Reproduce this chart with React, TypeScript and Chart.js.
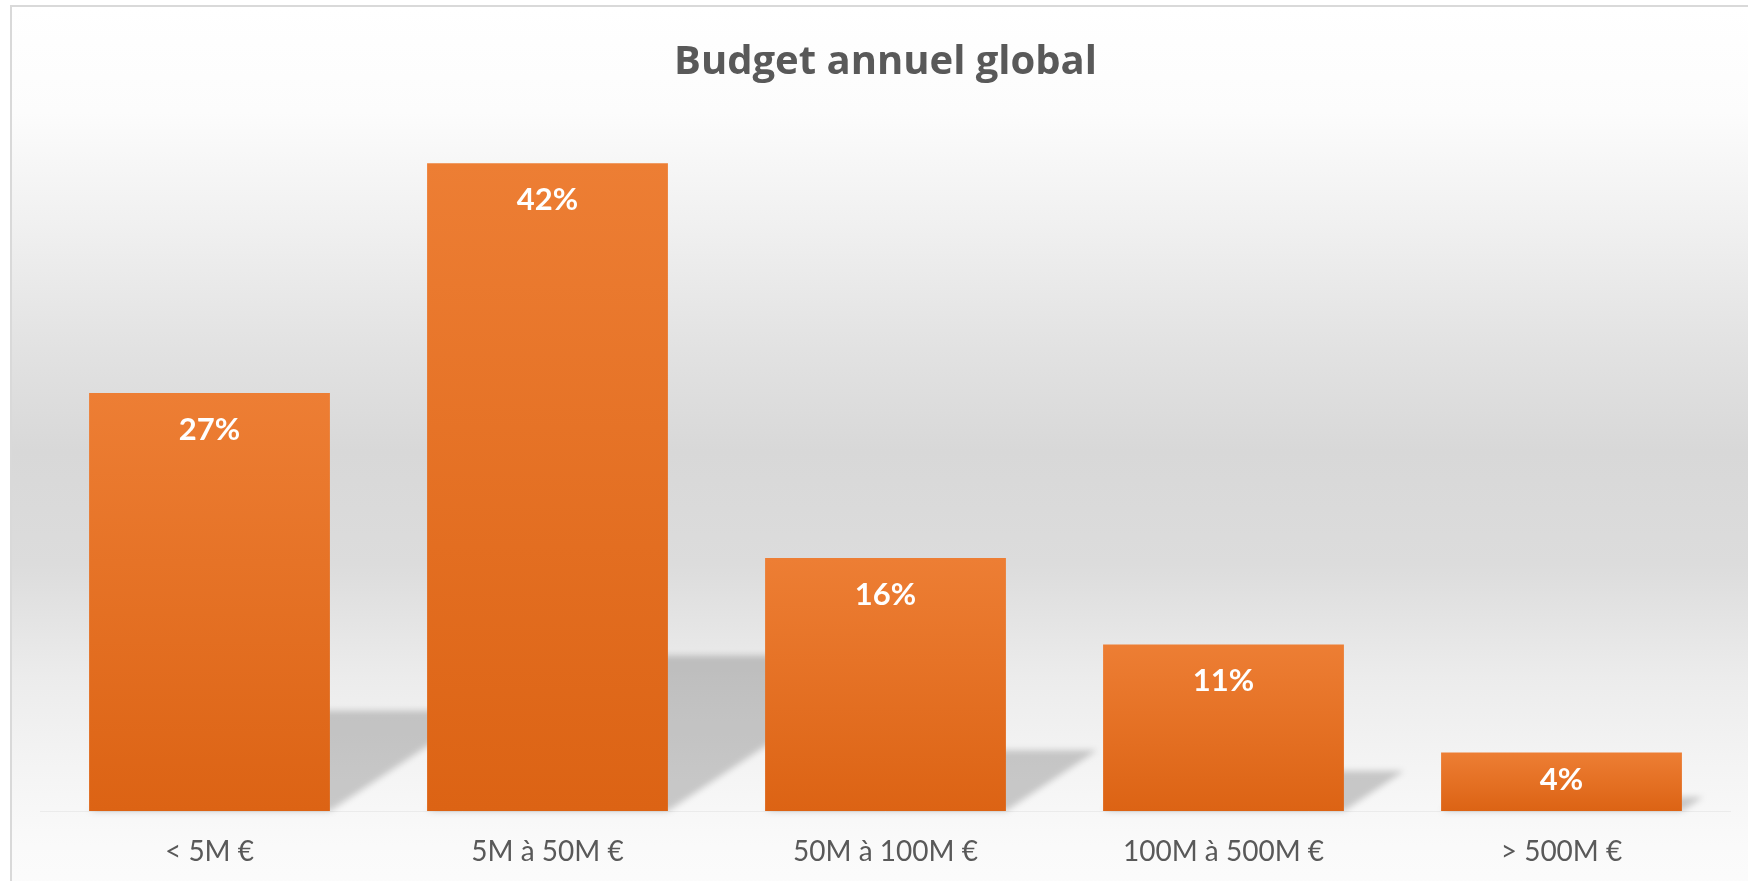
import React, { useEffect, useRef } from 'react';
import { Chart, registerables } from 'chart.js';

Chart.register(...registerables);

const chartTitle = 'Budget annuel global';
const categories = ['< 5M €', '5M à 50M €', '50M à 100M €', '100M à 500M €', '> 500M €'];
const values = [27.1, 42, 16.4, 10.8, 3.8];
const valueLabels = ['27%', '42%', '16%', '11%', '4%'];
const yMin = 0;
const yMax = 45;

const FONT = 'Lato';

const shadowPlugin = {
  id: 'barShadows',
  beforeDatasetsDraw(chart: any) {
    const ctx = chart.ctx;
    const meta = chart.getDatasetMeta(0);
    ctx.save();
    ctx.filter = 'blur(3px)';
    ctx.fillStyle = 'rgba(0,0,0,0.19)';
    meta.data.forEach((el: any) => {
      const { x, y, base, width } = el.getProps(['x', 'y', 'base', 'width'], true);
      const L = x - width / 2;
      const R = x + width / 2;
      const sh = (base - y) * 0.24;
      const dx = sh * 1.5;
      ctx.beginPath();
      ctx.moveTo(L, base);
      ctx.lineTo(R, base);
      ctx.lineTo(R + dx, base - sh);
      ctx.lineTo(L + dx, base - sh);
      ctx.closePath();
      ctx.fill();
    });
    ctx.restore();
  },
};

const labelPlugin = {
  id: 'barLabels',
  afterDatasetsDraw(chart: any) {
    const ctx = chart.ctx;
    const meta = chart.getDatasetMeta(0);
    ctx.save();
    ctx.fillStyle = '#ffffff';
    ctx.font = `bold 31px ${FONT}`;
    ctx.textAlign = 'center';
    ctx.textBaseline = 'alphabetic';
    meta.data.forEach((el: any, i: number) => {
      const { x, y, base } = el.getProps(['x', 'y', 'base'], true);
      const by = Math.min(y + 47, base - 21);
      ctx.fillText(valueLabels[i], x, by);
    });
    ctx.restore();
  },
};

const titlePlugin = {
  id: 'customTitle',
  afterDraw(chart: any) {
    const ctx = chart.ctx;
    const area = chart.chartArea;
    ctx.save();
    ctx.fillStyle = '#595959';
    ctx.font = `bold 40px "Open Sans"`;
    ctx.textAlign = 'center';
    ctx.textBaseline = 'alphabetic';
    ctx.fillText(chartTitle, (area.left + area.right) / 2, 74);
    ctx.restore();
  },
};

export default function App() {
  const canvasRef = useRef<HTMLCanvasElement | null>(null);

  useEffect(() => {
    if (!canvasRef.current) return;
    const chart = new Chart(canvasRef.current, {
      type: 'bar',
      data: {
        labels: categories,
        datasets: [
          {
            data: values,
            backgroundColor: (c: any) => {
              const { ctx, chartArea, scales } = c.chart;
              if (!chartArea || c.dataIndex === undefined || !scales.y) return '#E97A30';
              const top = scales.y.getPixelForValue(c.raw);
              const base = scales.y.getPixelForValue(0);
              const g = ctx.createLinearGradient(0, top, 0, base);
              g.addColorStop(0, '#ED7E34');
              g.addColorStop(1, '#DC6314');
              return g;
            },
            borderWidth: 0,
            categoryPercentage: 1,
            barPercentage: 0.7125,
          },
        ],
      },
      options: {
        responsive: false,
        animation: false,
        devicePixelRatio: 1,
        layout: { padding: { left: 40.5, right: 17.5, top: 117, bottom: -11.6 } },
        plugins: {
          legend: { display: false },
          tooltip: { enabled: false },
          title: { display: false },
        },
        scales: {
          x: {
            grid: { display: false, drawTicks: false },
            border: { display: true, color: '#ebebeb', width: 1 },
            ticks: {
              color: '#595959',
              font: { family: FONT, size: 28 },
              padding: 24,
              maxRotation: 0,
              autoSkip: false,
            },
          },
          y: { display: false, min: yMin, max: yMax },
        },
      },
      plugins: [shadowPlugin, labelPlugin, titlePlugin],
    });
    return () => chart.destroy();
  }, []);

  return (
    <div style={{ position: 'absolute', left: 0, top: 0, width: 1748, height: 881, overflow: 'hidden', background: '#ffffff' }}>
      <div
        style={{
          position: 'absolute',
          left: 10,
          top: 5,
          width: 1800,
          height: 900,
          borderLeft: '2px solid #d9d9d9',
          borderTop: '2px solid #d9d9d9',
          background:
            'linear-gradient(to bottom, #ffffff 0px, #fcfcfc 105px, #f0f0f0 220px, #e3e3e3 332px, #d8d8d8 445px, #dcdcdc 557px, #ececec 670px, #f3f3f3 749px, #fafafa 839px, #fcfcfc 900px)',
        }}
      />
      <canvas ref={canvasRef} width={1748} height={881} style={{ position: 'absolute', left: 0, top: 0 }} />
    </div>
  );
}
